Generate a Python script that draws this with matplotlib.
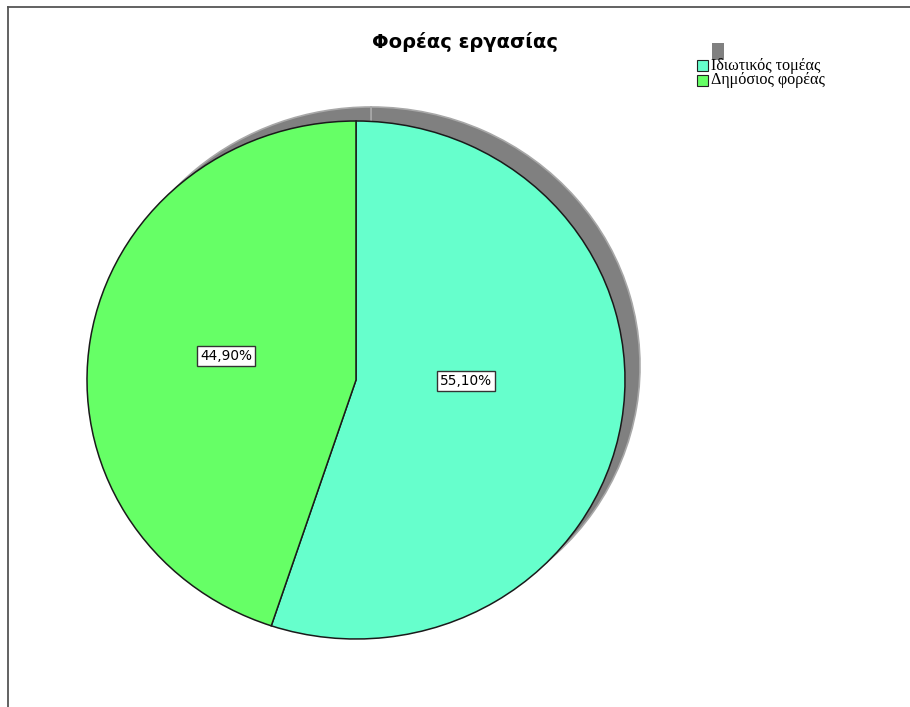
import matplotlib.pyplot as plt
from matplotlib.patches import Rectangle
from matplotlib.lines import Line2D

# Share of respondents by employer type
categories = ["Ιδιωτικός τομέας", "Δημόσιος φορέας"]
shares = [55.10, 44.90]
colors = ["#66FFCC", "#66FF66"]

W, H = 910, 707
fig = plt.figure(figsize=(W / 100, H / 100), dpi=100)

# pie is drawn as an ellipse: 269 px wide radius, 259 px tall radius
cx, cy = 356, 380
rx, ry = 269, 259
span = 1.2
ax = fig.add_axes([(cx - span * rx) / W, (H - cy - span * ry) / H,
                   2 * span * rx / W, 2 * span * ry / H])

# drop shadow, offset up and right
sx, sy = 15 / rx, 14 / ry
ax.pie(shares, colors=["#808080"] * len(shares), startangle=90, counterclock=False,
       center=(sx, sy), wedgeprops=dict(edgecolor="#a8a8a8", linewidth=1.2),
       frame=True)

wedges, _, autotexts = ax.pie(
    shares, colors=colors, startangle=90, counterclock=False,
    autopct=lambda p: f"{p:.2f}".replace(".", ",") + "%",
    pctdistance=0.45, frame=True,
    wedgeprops=dict(edgecolor="#1a1a1a", linewidth=1.1),
    textprops=dict(fontsize=9.8, color="black"))
ax.set_xlim(-span, span)
ax.set_ylim(-span, span)
ax.set_aspect("auto")
ax.axis("off")

# value labels in boxed tags
label_pos = [(0.409, -0.004), (-0.483, 0.093)]
for t, pos in zip(autotexts, label_pos):
    t.set_position(pos)
    t.set_bbox(dict(boxstyle="square,pad=0.2", facecolor="white",
                    edgecolor="#333333", linewidth=1))

fig.text(465 / W, 1 - 42 / H, "Φορέας εργασίας", ha="center", va="center",
         fontsize=14, fontweight="bold")

# legend with its little shadow block
fig.add_artist(Rectangle((712 / W, 1 - 60 / H), 12 / W, 17 / H,
                         transform=fig.transFigure, facecolor="#808080",
                         edgecolor="none"))
for i, (name, c) in enumerate(zip(categories, colors)):
    ytop = 60 + i * 15
    fig.add_artist(Rectangle((697 / W, 1 - (ytop + 11) / H), 11 / W, 11 / H,
                             transform=fig.transFigure, facecolor=c,
                             edgecolor="#222222", linewidth=0.8))
    fig.text(711 / W, 1 - (ytop + 5.5) / H, name, ha="left", va="center",
             fontsize=11.6, family="Liberation Serif")

# frame lines along the left and top edges
fig.add_artist(Line2D([8 / W, 8 / W], [0, 1 - 7 / H], color="#555555", linewidth=1.3))
fig.add_artist(Line2D([8 / W, 1], [1 - 7 / H, 1 - 7 / H], color="#555555", linewidth=1.3))

fig.savefig("out.png", dpi=100)
